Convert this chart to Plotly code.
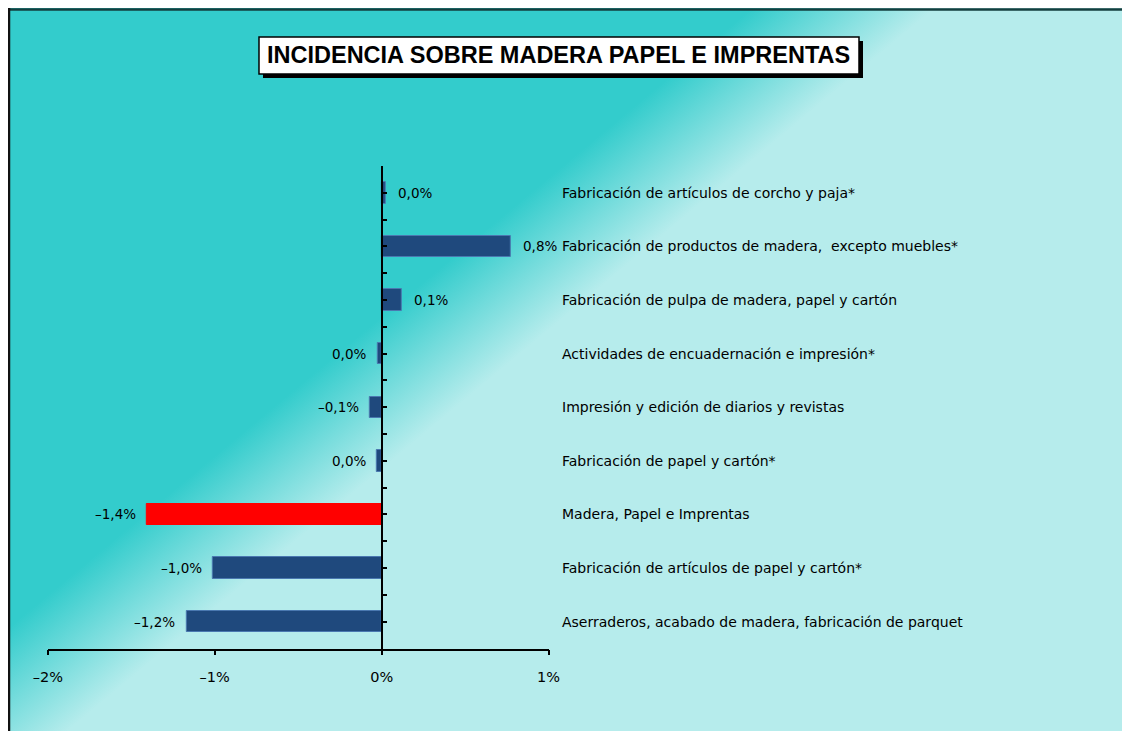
import base64
import plotly.graph_objects as go

# ---------------- data ----------------
categories = [
    "Fabricación de artículos de corcho y paja*",
    "Fabricación de productos de madera,  excepto muebles*",
    "Fabricación de pulpa de madera, papel y cartón",
    "Actividades de encuadernación e impresión*",
    "Impresión y edición de diarios y revistas",
    "Fabricación de papel y cartón*",
    "Madera, Papel e Imprentas",
    "Fabricación de artículos de papel y cartón*",
    "Aserraderos, acabado de madera, fabricación de parquet",
]
values = [0.025, 0.775, 0.12, -0.025, -0.07, -0.03, -1.405, -1.01, -1.17]
value_labels = ["0,0%", "0,8%", "0,1%", "0,0%", "–0,1%", "0,0%", "–1,4%", "–1,0%", "–1,2%"]
bar_colors = ["#1F497D"] * 6 + ["#FF0000"] + ["#1F497D"] * 2
x_tickvals = [-2, -1, 0, 1]
x_ticktext = ["–2%", "–1%", "0%", "1%"]
title_text = "INCIDENCIA SOBRE MADERA PAPEL E IMPRENTAS"

# ---------------- layout geometry ----------------
W, H = 1122, 723
XMIN, XMAX = -2, 1
xdom = [39.8 / W, 540.6 / W]
ydom = [1 - 640.5 / H, 1 - 158 / H]
n = len(categories)
ypos = [n - 1 - i for i in range(n)]
yaxis_pos = xdom[0] + (0 - XMIN) / (XMAX - XMIN) * (xdom[1] - xdom[0])

FONT = "DejaVu Sans"

# gradient background (inline SVG)
svg = (
    f"<svg xmlns='http://www.w3.org/2000/svg' width='{W}' height='{H}' "
    f"viewBox='0 0 {W} {H}' preserveAspectRatio='none'>"
    "<defs><linearGradient id='g' gradientUnits='userSpaceOnUse' "
    "x1='305' y1='366' x2='380' y2='456'>"
    "<stop offset='0' stop-color='#33CCCC'/>"
    "<stop offset='0.5' stop-color='#75DCDC'/>"
    "<stop offset='1' stop-color='#B6ECEC'/>"
    "</linearGradient></defs>"
    f"<rect x='0' y='0' width='{W}' height='{H}' fill='url(#g)'/></svg>"
)
svg_uri = "data:image/svg+xml;base64," + base64.b64encode(svg.encode()).decode()

line_colors = ["#4A78B0" if c != "#FF0000" else "#FF0000" for c in bar_colors]

fig = go.Figure()
fig.add_trace(go.Bar(
    x=values, y=ypos, orientation="h", width=0.4,
    marker=dict(color=bar_colors, line=dict(color=line_colors, width=1)),
    hoverinfo="skip", showlegend=False,
))

annotations = []
for v, y, lab in zip(values, ypos, value_labels):
    annotations.append(dict(
        x=v, y=y, xref="x", yref="y", text=lab, showarrow=False,
        xanchor="left" if v >= 0 else "right",
        xshift=10 if v >= 0 else -9, yshift=0,
        font=dict(family=FONT, size=13.5, color="#000000"),
    ))
for cat, y in zip(categories, ypos):
    annotations.append(dict(
        x=1, y=y, xref="x domain", yref="y", text=cat, showarrow=False,
        xanchor="left", xshift=11,
        font=dict(family=FONT, size=14, color="#000000"),
    ))
annotations.append(dict(
    x=550.5 / W, y=1 - 47.5 / H, xref="paper", yref="paper", text=title_text,
    showarrow=False, xanchor="center", yanchor="middle",
    font=dict(family="Liberation Sans", size=23.5, color="#000000", weight="bold"),
))

shapes = [
    # title shadow
    dict(type="rect", xref="paper", yref="paper",
         x0=255 / W, x1=855 / W, y0=1 - 70 / H, y1=1 - 33 / H,
         fillcolor="#000000", line=dict(width=0), layer="below"),
    # title box
    dict(type="rect", xref="paper", yref="paper",
         x0=251 / W, x1=851 / W, y0=1 - 66 / H, y1=1 - 29 / H,
         fillcolor="#FFFFFF", line=dict(color="#000000", width=1.5), layer="below"),
    # chart border (top and left)
    dict(type="line", xref="paper", yref="paper", x0=0, x1=1, y0=1 - 1.5 / H, y1=1 - 1.5 / H,
         line=dict(color="#143F3F", width=2.5)),
    dict(type="line", xref="paper", yref="paper", x0=1 / W, x1=1 / W, y0=0, y1=1,
         line=dict(color="#111111", width=2.5)),
]

fig.update_layout(
    width=W, height=H,
    margin=dict(l=0, r=0, t=0, b=0, pad=0),
    paper_bgcolor="#B6ECEC",
    plot_bgcolor="rgba(0,0,0,0)",
    images=[dict(source=svg_uri, xref="paper", yref="paper", x=0, y=1,
                 sizex=1, sizey=1, sizing="stretch", xanchor="left", yanchor="top",
                 layer="below")],
    xaxis=dict(
        domain=xdom, range=[XMIN, XMAX], tickvals=x_tickvals, ticktext=x_ticktext,
        showgrid=False, zeroline=False, showline=True, linecolor="#000000", linewidth=1.5,
        ticks="outside", ticklen=5, tickwidth=1.5, tickcolor="#000000",
        ticklabelstandoff=9,
        tickfont=dict(family=FONT, size=14.5, color="#000000"),
        automargin=False, fixedrange=True,
    ),
    yaxis=dict(
        domain=ydom, range=[-0.5, n - 0.5], anchor="free", position=yaxis_pos,
        showgrid=False, zeroline=False, showline=True, linecolor="#000000", linewidth=1.5,
        ticks="inside", ticklen=5, tickwidth=1.5, tickcolor="#000000",
        tick0=-0.5, dtick=0.5, showticklabels=False,
        automargin=False, fixedrange=True,
    ),
    annotations=annotations,
    shapes=shapes,
    bargap=0,
)

fig.write_html("out.html")
